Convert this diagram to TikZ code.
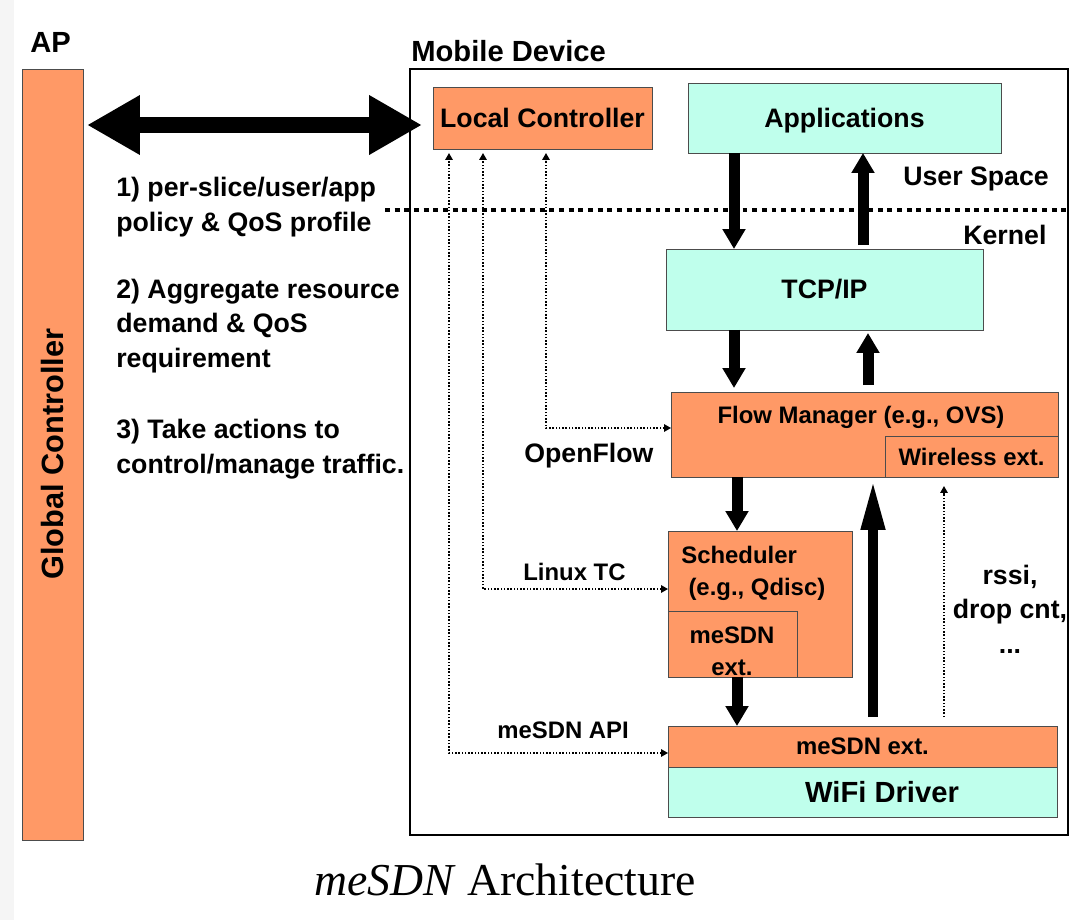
\documentclass[tikz,border=0pt]{standalone}
\usepackage{fontspec}
\setmainfont{Liberation Sans}
\newfontfamily\capfont{Liberation Serif}
\usetikzlibrary{arrows.meta}
\definecolor{boxorange}{RGB}{255,153,102}
\definecolor{boxcyan}{RGB}{191,255,236}

\begin{document}
\begin{tikzpicture}[x=0.02cm, y=-0.02cm]
    \tikzstyle{O}=[rectangle,draw=black!70,fill=boxorange,inner sep=0pt,outer sep=0pt]
    \tikzstyle{C}=[rectangle,draw=black!70,fill=boxcyan,inner sep=0pt,outer sep=0pt]
    \tikzstyle{txtS}=[font=\fontsize{13.6}{18.1}\selectfont\bfseries]
    \tikzstyle{txtL}=[font=\fontsize{15.2}{19.6}\selectfont\bfseries]
    \tikzstyle{txtH}=[font=\fontsize{16.6}{20}\selectfont\bfseries]
    \tikzstyle{fat}=[line width=0.22cm,-{Triangle[length=0.4cm,width=0.44cm]}]
    \tikzstyle{probe}=[densely dotted,line width=0.85pt,-{Triangle[length=0.14cm,width=0.15cm]}]
    \tikzstyle{link}=[densely dotted,line width=0.85pt,{Triangle[length=0.14cm,width=0.15cm]}-{Triangle[length=0.14cm,width=0.15cm]}]

    \useasboundingbox (0,0) rectangle (1073,920);
    \fill[gray!8] (0,0) rectangle (14,920);

    % AP side
    \node [txtH, anchor=base west, inner sep=0pt] (ap) at (30,52) {AP};
    \node [O, minimum width=1.22cm, minimum height=15.42cm] (gc) at (52.5,454.5) {};
    \node [rotate=90, font=\fontsize{17.5}{20}\selectfont\bfseries] (gctext) at (53,454) {Global Controller};

    % Mobile device frame
    \node [txtH, anchor=base west, inner sep=0pt] (mdlabel) at (411,61) {Mobile Device};
    \node [draw=black, line width=1.1pt, inner sep=0pt, minimum width=13.16cm, minimum height=15.32cm] (md) at (739,452) {};

    \node [O, txtL, minimum width=4.38cm, minimum height=1.24cm] (lc) at (542.5,118) {Local Controller};
    \node [C, txtL, text depth=0pt, minimum width=6.26cm, minimum height=1.4cm] (apps) at (844.5,118) {Applications};
    \node [C, txtL, minimum width=6.34cm, minimum height=1.62cm] (tcp) at (824.5,289.5) {TCP/IP};
    \node [O, minimum width=7.74cm, minimum height=1.7cm] (fm) at (864.5,434.5) {};
    \node [O, txtS, minimum width=3.46cm, minimum height=0.82cm] (wext) at (971.5,456.5) {Wireless ext.};
    \node [O, minimum width=3.68cm, minimum height=2.92cm] (sched) at (760,604) {};
    \node [O, minimum width=2.58cm, minimum height=1.32cm] (sext) at (732.5,644) {};
    \node [O, txtS, minimum width=7.78cm, minimum height=0.82cm] (mext) at (862.5,746.5) {meSDN ext.};
    \node [C, minimum width=7.78cm, minimum height=1.0cm] (wifi) at (862.5,792) {};

    \node [txtS] (fmtext) at (861,417) {Flow Manager (e.g., OVS)};
    \node [txtS, anchor=base west, align=left, inner sep=0pt] (schedtext) at (681,595) {Scheduler\\\hspace{0.3em}(e.g., Qdisc)};
    \node [txtS, align=center] (sexttext) at (732,651) {meSDN\\ext.};
    \node [txtH] (wifitext) at (882,792) {WiFi Driver};

    % user space / kernel
    \draw [line width=2.4pt, dash pattern=on 2.8pt off 2.7pt] (385,210) -- (md.east |- 0,210);
    \node [txtL, anchor=base west, inner sep=0pt] (user) at (903,185) {User Space};
    \node [txtL, anchor=base west, inner sep=0pt] (kernel) at (963,244) {Kernel};

    % data path
    \draw [fat] (734,0 |- apps.south) -- (734,0 |- tcp.north);
    \draw [fat, shorten <=0.08cm] (863,0 |- tcp.north) -- (863,0 |- apps.south);
    \draw [fat, shorten >=0.08cm] (734,0 |- tcp.south) -- (734,0 |- fm.north);
    \draw [fat, shorten <=0.14cm, shorten >=0.06cm] (868,0 |- fm.north) -- (868,0 |- tcp.south);
    \draw [fat] (737,0 |- fm.south) -- (737,0 |- sched.north);
    \draw [fat] (737,0 |- sched.south) -- (737,0 |- mext.north);
    \draw [line width=0.2cm, -{Triangle[length=1.02cm,width=0.44cm]}, shorten <=0.18cm, shorten >=0.04cm]
        (873,0 |- mext.north) -- (873,0 |- fm.south);
    \draw [probe, shorten <=0.18cm, shorten >=0.18cm] (944,0 |- mext.north) -- (944,0 |- wext.south);
    \node [txtL, align=center, anchor=base] (stats) at (1010,653) {rssi,\\drop cnt,\\...};

    % control path
    \draw [line width=0.32cm, {Triangle[length=1.06cm,width=1.12cm]}-{Triangle[length=1.06cm,width=1.12cm]},
        shorten <=0.08cm, shorten >=0.22cm] (gc.east |- 0,125) -- (lc.west |- 0,125);
    \draw [link, shorten >=0.08cm] ([yshift=0.13cm]fm.west) -| (546,0 |- lc.south);
    \draw [link, shorten >=0.08cm] ([yshift=0.3cm]sched.west) -| (483,0 |- lc.south);
    \draw [link, shorten >=0.08cm] ([yshift=-0.13cm]mext.west) -| (449,0 |- lc.south);
    \node [txtL, anchor=base west, inner sep=0pt] (of) at (524,462) {OpenFlow};
    \node [txtS, anchor=base west, inner sep=0pt] (ltc) at (523,580) {Linux TC};
    \node [txtS, anchor=base west, inner sep=0pt] (api) at (497,738) {meSDN API};

    % what the controllers exchange
    \node [txtL, anchor=base west, align=left, inner sep=0pt] (item1) at (116,231) {1) per-slice/user/app\\policy \& QoS profile};
    \node [txtL, anchor=base west, align=left, inner sep=0pt] (item2) at (116,367) {2) Aggregate resource\\demand \& QoS\\requirement};
    \node [txtL, anchor=base west, align=left, inner sep=0pt] (item3) at (116,473) {3) Take actions to\\control/manage traffic.};

    \node [font=\capfont\fontsize{26}{30}\selectfont, anchor=base] (caption) at (505,895) {\textit{meSDN} Architecture};
\end{tikzpicture}
\end{document}
